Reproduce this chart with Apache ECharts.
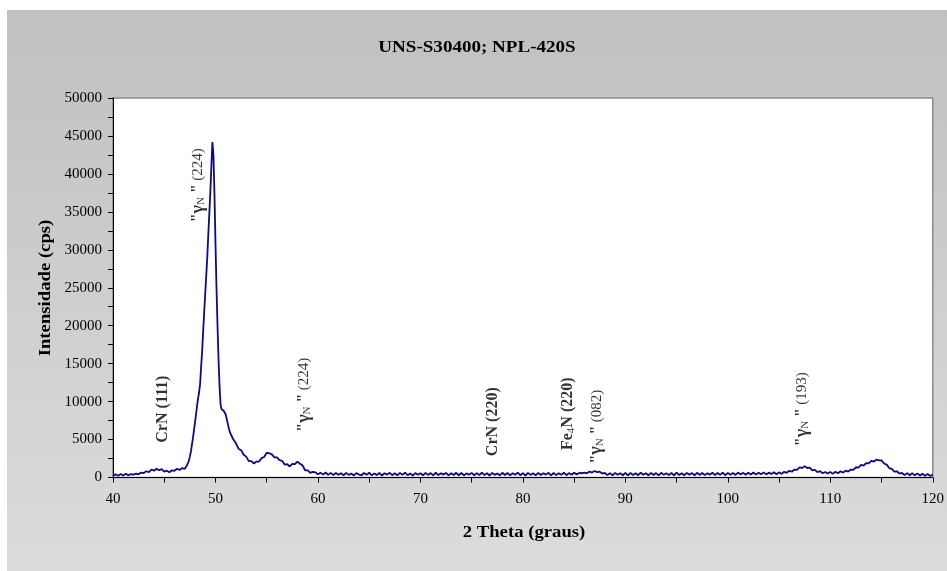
<!DOCTYPE html>
<html>
<head>
<meta charset="utf-8">
<script src="https://cdn.jsdelivr.net/npm/echarts@6/dist/echarts.min.js"></script>
<style>
html,body{margin:0;padding:0;background:#fff;}
#chart{width:947px;height:571px;}
</style>
</head>
<body>
<div id="chart"></div>
<script>
var chartTitle = 'UNS-S30400; NPL-420S';
var xAxisTitle = '2 Theta (graus)';
var yAxisTitle = 'Intensidade (cps)';

var xTicks = {min: 40, max: 120, interval: 10};
var yTicks = {min: 0, max: 50000, interval: 5000};

// 2 Theta (degrees) sampled positions
var twoTheta = [
  40.00,40.25,40.50,40.75,41.00,41.25,41.50,41.75,42.00,42.25,42.50,42.75,43.00,43.25,43.50,43.75,
  44.00,44.25,44.50,44.75,45.00,45.25,45.50,45.75,46.00,46.25,46.50,46.75,47.00,
  47.1,47.2,47.3,47.4,47.5,47.6,47.7,47.8,47.9,48.0,48.1,48.2,48.3,48.4,48.5,48.6,48.7,48.8,48.9,
  49.0,49.1,49.2,49.3,49.4,49.5,49.6,49.7,49.8,49.9,50.0,50.1,50.2,50.3,50.4,50.5,50.6,50.7,50.8,50.9,
  51.0,51.1,51.2,51.3,51.4,51.5,
  51.75,52.00,52.25,52.50,52.75,53.00,53.25,53.50,53.75,54.00,54.25,54.50,54.75,55.00,55.25,55.50,
  55.75,56.00,56.25,56.50,56.75,57.00,57.25,57.50,57.75,58.00,58.25,58.50,58.75,59.00,59.25,59.50,
  59.75,60.00,60.25,60.50,60.75,61.00,61.25,61.50,61.75,62.00,
  62.25,62.50,62.75,63.00,63.25,63.50,63.75,64.00,64.25,64.50,64.75,65.00,65.25,65.50,65.75,66.00,
  66.25,66.50,66.75,67.00,67.25,67.50,67.75,68.00,68.25,68.50,68.75,69.00,69.25,69.50,69.75,70.00,
  70.25,70.50,70.75,71.00,71.25,71.50,71.75,72.00,72.25,72.50,72.75,73.00,73.25,73.50,73.75,74.00,
  74.25,74.50,74.75,75.00,75.25,75.50,75.75,76.00,76.25,76.50,76.75,77.00,77.25,77.50,77.75,78.00,
  78.25,78.50,78.75,79.00,79.25,79.50,79.75,80.00,80.25,80.50,80.75,81.00,81.25,81.50,81.75,82.00,
  82.25,82.50,82.75,83.00,83.25,83.50,83.75,84.00,84.25,84.50,84.75,85.00,85.25,85.50,85.75,86.00,
  86.25,86.50,86.75,87.00,87.25,87.50,87.75,88.00,
  88.25,88.50,88.75,89.00,89.25,89.50,89.75,90.00,90.25,90.50,90.75,91.00,91.25,91.50,91.75,92.00,
  92.25,92.50,92.75,93.00,93.25,93.50,93.75,94.00,94.25,94.50,94.75,95.00,95.25,95.50,95.75,96.00,
  96.25,96.50,96.75,97.00,97.25,97.50,97.75,98.00,98.25,98.50,98.75,99.00,99.25,99.50,99.75,100.00,
  100.25,100.50,100.75,101.00,101.25,101.50,101.75,102.00,102.25,102.50,102.75,103.00,103.25,103.50,103.75,104.00,
  104.25,104.50,
  104.75,105.00,105.25,105.50,105.75,106.00,106.25,106.50,106.75,107.00,
  107.25,107.50,107.75,108.00,108.25,108.50,108.75,109.00,109.25,109.50,
  109.75,110.00,110.25,110.50,110.75,111.00,111.25,111.50,111.75,112.00,
  112.25,112.50,112.75,113.00,113.25,113.50,113.75,114.00,114.25,114.50,
  114.75,115.00,115.25,115.50,115.75,116.00,116.25,116.50,116.75,117.00,
  117.25,117.50,117.75,118.00,118.25,118.50,118.75,119.00,119.25,119.50,
  119.75,120.00
];

// Intensity (cps) (noisy diffractogram)
var intensity = [
  180,420,230,460,260,480,300,450,380,520,420,650,580,820,700,1050,
  900,1150,950,1100,780,900,700,950,880,1150,980,1250,1150,
  1400,1550,1750,2200,2750,3400,4300,5200,6200,7200,8300,9400,10400,11200,12300,14600,16600,19300,21800,
  24200,26600,29000,32000,34800,37600,41000,44200,42600,37500,31000,25000,20000,15500,12000,9600,9000,9100,8800,8600,
  8300,7700,7100,6500,6000,5700,
  5000,4500,3800,3600,3000,2750,2150,2150,1850,2100,2100,2550,2700,3250,3200,3050,
  2650,2650,2300,2200,1700,1750,1450,1800,1750,2100,1800,1600,950,950,620,750,
  680,420,640,380,660,350,610,320,590,360,
  560,300,610,340,520,270,580,390,300,590,350,630,280,540,330,600,
  260,570,380,620,310,550,290,610,350,640,300,520,260,590,370,560,
  290,610,340,580,270,630,320,550,380,600,280,560,330,620,300,590,
  270,540,360,610,290,580,320,640,310,570,260,600,350,530,290,620,
  330,590,280,560,370,640,300,580,260,610,340,550,290,600,330,570,
  380,620,270,590,310,560,350,630,300,580,360,620,410,600,560,640,
  560,780,650,850,700,760,520,600,
  320,580,290,610,350,560,300,620,270,590,340,570,300,630,360,550,
  290,600,330,580,270,620,350,560,310,590,280,640,330,570,300,610,
  360,580,290,620,340,600,310,570,380,630,320,590,350,640,300,610,
  370,600,340,650,390,610,360,640,400,660,380,620,420,680,410,640,
  450,690,
  420,680,480,760,620,880,760,1050,1000,1350,
  1250,1500,1250,1300,950,1000,700,840,560,720,
  520,740,480,760,560,820,640,900,780,1050,
  1000,1350,1300,1650,1550,1900,1850,2200,2100,2350,
  2250,2250,1850,1700,1250,1150,780,820,500,600,
  320,580,300,560,280,540,260,500,220,460,
  200,380
];

// Peak annotations: label kind, index text, anchor (2 Theta, intensity)
var peakLabels = [
  {kind: 'plain', text: 'CrN (111)', at: [44.9, 9000]},
  {kind: 'gamma', text: '(224)', at: [48.3, 38500]},
  {kind: 'gamma', text: '(224)', at: [58.65, 10900]},
  {kind: 'plain', text: 'CrN (220)', at: [77.1, 7350]},
  {kind: 'fe4n', text: '(220)', at: [84.4, 8400]},
  {kind: 'gamma', text: '(082)', at: [87.2, 6700]},
  {kind: 'gamma', text: '(193)', at: [107.25, 9000]}
];

var serif = '"Liberation Serif", "Times New Roman", serif';
var chart = echarts.init(document.getElementById('chart'), null, {renderer: 'canvas'});

var lineData = twoTheta.map(function (t, i) { return [t, intensity[i]]; });

function labelText(p) {
  if (p.kind === 'gamma') return '{q|"}{g|γ}{s|N}{q| "} {n|' + p.text + '}';
  if (p.kind === 'fe4n') return '{b|Fe}{s|4}{b|N ' + p.text + '}';
  return '{b|' + p.text + '}';
}

var labelData = peakLabels.map(function (p) {
  return {value: p.at, label: {formatter: labelText(p)}};
});

function titleText(txt, x, y, rot, sx) {
  return {type: 'text', z: 100, x: x, y: y, rotation: rot, scaleX: sx, silent: true,
    style: {text: txt, fill: '#000', font: 'bold 17px ' + serif,
            align: 'center', verticalAlign: 'middle', textAlign: 'center', textVerticalAlign: 'middle'}};
}

var option = {
  animation: false,
  backgroundColor: '#ffffff',
  graphic: [
    {type: 'rect', z: -100, silent: true,
     shape: {x: 7, y: 10, width: 940, height: 561},
     style: {fill: new echarts.graphic.LinearGradient(0, 0, 0, 1, [
       {offset: 0, color: '#c0c0c0'}, {offset: 1, color: '#dcdcdc'}])}},
    titleText(chartTitle, 477, 48, 0, 1.12),
    titleText(xAxisTitle, 524, 533, 0, 1.1),
    titleText(yAxisTitle, 46, 288, Math.PI / 2, 1.1)
  ],
  grid: {
    left: 113, right: 10.5, top: 98, bottom: 93.5,
    show: true, backgroundColor: '#ffffff', borderColor: '#8a8a8a', borderWidth: 1.5
  },
  xAxis: {
    type: 'value', min: xTicks.min, max: xTicks.max, interval: xTicks.interval,
    axisLine: {show: true, onZero: false, lineStyle: {color: '#000', width: 1}},
    axisTick: {show: true, inside: false, length: 5, lineStyle: {color: '#000'}},
    minorTick: {show: true, splitNumber: 2, length: 5, lineStyle: {color: '#000'}},
    splitLine: {show: false},
    axisLabel: {color: '#000', fontFamily: serif, fontSize: 15, margin: 14,
                formatter: function (v) { return String(v); }}
  },
  yAxis: {
    type: 'value', min: yTicks.min, max: yTicks.max, interval: yTicks.interval,
    axisLine: {show: true, lineStyle: {color: '#000', width: 1}},
    axisTick: {show: true, inside: false, length: 5, lineStyle: {color: '#000'}},
    minorTick: {show: true, splitNumber: 2, length: 5, lineStyle: {color: '#000'}},
    splitLine: {show: false},
    axisLabel: {color: '#000', fontFamily: serif, fontSize: 15, margin: 11,
                formatter: function (v) { return String(v); }}
  },
  series: [
    {
      type: 'line', data: lineData, showSymbol: false, symbol: 'none',
      lineStyle: {color: '#0a0a8a', width: 1.8}, z: 3
    },
    {
      type: 'scatter', data: labelData, symbolSize: 0, silent: true, z: 5,
      label: {
        show: true, position: 'inside', rotate: 90, color: '#000',
        align: 'center', verticalAlign: 'middle',
        rich: {
          b: {fontFamily: serif, fontWeight: 'bold', fontSize: 16, color: '#000'},
          q: {fontFamily: serif, fontWeight: 'bold', fontSize: 16, color: '#000'},
          g: {fontFamily: serif, fontWeight: 'bold', fontSize: 18, color: '#000'},
          s: {fontFamily: serif, fontWeight: 'normal', fontSize: 11, color: '#000', verticalAlign: 'bottom', padding: [6, 0, 0, 0]},
          n: {fontFamily: serif, fontWeight: 'normal', fontSize: 15, color: '#000'}
        }
      }
    }
  ]
};
chart.setOption(option);
</script>
</body>
</html>
